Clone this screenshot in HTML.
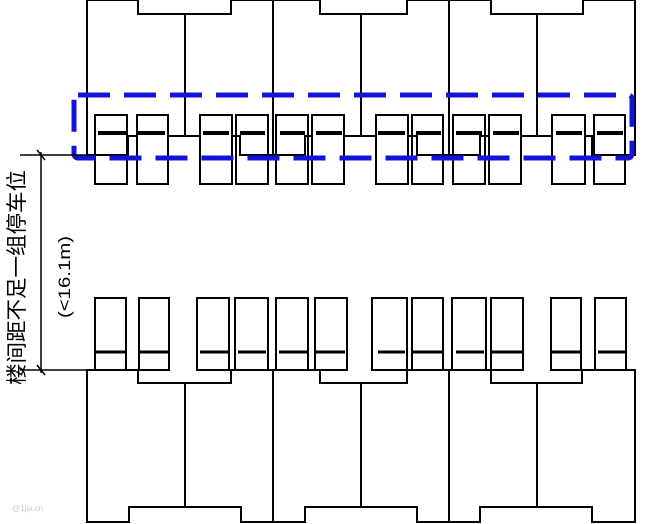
<!DOCTYPE html>
<html><head><meta charset="utf-8"><style>
html,body{margin:0;padding:0;background:#fff;width:650px;height:524px;overflow:hidden}
</style></head><body>
<svg width="650" height="524" viewBox="0 0 650 524" xmlns="http://www.w3.org/2000/svg">
<g fill="none" stroke="#000" stroke-width="2">
<path d="M87,155 V0 H138 V14 H231 V0 H320 V14 H407 V0 H491 V14 H583 V0 H635 V155 H592 V136 H480 V155 H417 V136 H305 V155 H240 V136 H128 V155 Z"/>
<line x1="273" y1="0" x2="273" y2="155"/>
<line x1="449" y1="0" x2="449" y2="155"/>
<line x1="185" y1="14" x2="185" y2="136"/>
<line x1="361" y1="14" x2="361" y2="136"/>
<line x1="537" y1="14" x2="537" y2="136"/>
<path d="M87,522 V370 H138 V383 H231 V370 H320 V383 H407 V370 H491 V383 H582 V370 H635 V522 H592 V507 H480 V522 H417 V507 H305 V522 H241 V507 H129 V522 Z"/>
<line x1="273" y1="370" x2="273" y2="522"/>
<line x1="449" y1="370" x2="449" y2="522"/>
<line x1="185" y1="383" x2="185" y2="507"/>
<line x1="361" y1="383" x2="361" y2="507"/>
<line x1="537" y1="383" x2="537" y2="507"/>
</g>
<g fill="#fff" stroke="#000" stroke-width="2">
<rect x="95" y="115" width="32" height="69" fill="none"/><rect x="137" y="115" width="31" height="69"/>
<rect x="200" y="115" width="32" height="69"/><rect x="236" y="115" width="32" height="69" fill="none"/>
<rect x="276" y="115" width="32" height="69" fill="none"/><rect x="312" y="115" width="32" height="69"/>
<rect x="376" y="115" width="32" height="69"/><rect x="412" y="115" width="31" height="69" fill="none"/>
<rect x="453" y="115" width="32" height="69" fill="none"/><rect x="489" y="115" width="32" height="69"/>
<rect x="552" y="115" width="33" height="69"/><rect x="594" y="115" width="31" height="69" fill="none"/>
<rect x="95" y="298" width="31" height="72"/><rect x="139" y="298" width="30" height="72"/>
<rect x="197" y="298" width="32" height="72"/><rect x="235" y="298" width="33" height="72"/>
<rect x="276" y="298" width="32" height="72"/><rect x="315" y="298" width="32" height="72"/>
<rect x="372" y="298" width="35" height="72"/><rect x="412" y="298" width="31" height="72"/>
<rect x="452" y="298" width="34" height="72"/><rect x="491" y="298" width="32" height="72"/>
<rect x="551" y="298" width="30" height="72"/><rect x="595" y="298" width="31" height="72"/>
</g>
<g stroke="#000" stroke-width="4">
<line x1="98" y1="133" x2="126" y2="133"/><line x1="138" y1="133" x2="165" y2="133"/>
<line x1="203" y1="133" x2="229" y2="133"/><line x1="240" y1="133" x2="265" y2="133"/>
<line x1="280" y1="133" x2="305" y2="133"/><line x1="316" y1="133" x2="342" y2="133"/>
<line x1="378" y1="133" x2="405" y2="133"/><line x1="416" y1="133" x2="441" y2="133"/>
<line x1="456" y1="133" x2="482" y2="133"/><line x1="493" y1="133" x2="519" y2="133"/>
<line x1="556" y1="133" x2="582" y2="133"/><line x1="597" y1="133" x2="623" y2="133"/>
</g>
<g stroke="#000" stroke-width="3">
<line x1="95" y1="352" x2="126" y2="352"/><line x1="139" y1="352" x2="169" y2="352"/>
<line x1="200" y1="352" x2="228" y2="352"/><line x1="238" y1="352" x2="266" y2="352"/>
<line x1="279" y1="352" x2="307" y2="352"/><line x1="316" y1="352" x2="345" y2="352"/>
<line x1="378" y1="352" x2="405" y2="352"/><line x1="412" y1="352" x2="443" y2="352"/>
<line x1="456" y1="352" x2="484" y2="352"/><line x1="491" y1="352" x2="523" y2="352"/>
<line x1="551" y1="352" x2="581" y2="352"/><line x1="598" y1="352" x2="626" y2="352"/>
</g>
<rect x="74" y="95" width="558" height="63" rx="4" fill="none" stroke="#1414d8" stroke-width="5" stroke-dasharray="32,14"/>
<g stroke="#000" stroke-width="1.5">
<line x1="20" y1="155" x2="87" y2="155"/>
<line x1="20" y1="370" x2="87" y2="370"/>
<line x1="41" y1="152" x2="41" y2="373"/>
<line x1="37" y1="150" x2="45" y2="160"/>
<line x1="37" y1="365" x2="45" y2="375"/>
</g>
<text transform="translate(24,385) rotate(-90)" font-family="Liberation Sans, Noto Sans CJK SC, sans-serif" font-size="21" fill="#000" textLength="215" lengthAdjust="spacingAndGlyphs">楼间距不足一组停车位</text>
<text transform="translate(70,318) rotate(-90)" font-family="Liberation Sans, Noto Sans CJK SC, sans-serif" font-size="17" fill="#000" textLength="82" lengthAdjust="spacingAndGlyphs">(&lt;16.1m)</text>
<text x="12" y="511" font-family="Liberation Sans, sans-serif" font-size="8" fill="#ccc">@1jia.cn</text>
</svg>
</body></html>
